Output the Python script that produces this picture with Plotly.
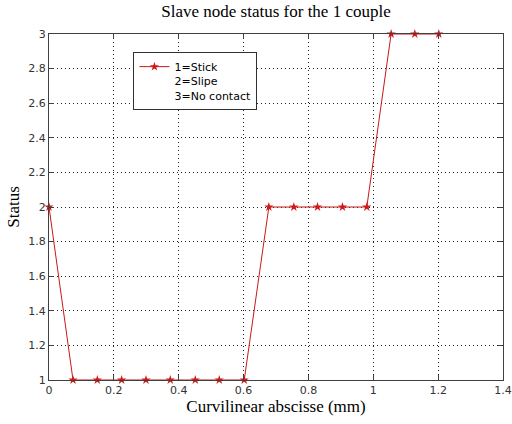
import plotly.graph_objects as go

x_mm = [0, 0.074, 0.149, 0.224, 0.299, 0.374, 0.451, 0.525, 0.602,
        0.678, 0.755, 0.828, 0.905, 0.980, 1.055, 1.128, 1.202]
status = [2, 1, 1, 1, 1, 1, 1, 1, 1, 2, 2, 2, 2, 2, 3, 3, 3]
x_ticks = [0, 0.2, 0.4, 0.6, 0.8, 1, 1.2, 1.4]
y_ticks = [1, 1.2, 1.4, 1.6, 1.8, 2, 2.2, 2.4, 2.6, 2.8, 3]
legend_text = "1=Stick<br>2=Slipe<br>3=No contact"

fig = go.Figure()
fig.add_trace(go.Scatter(
    x=x_mm, y=status, mode="lines+markers", name=legend_text,
    line=dict(color="#c81818", width=1),
    marker=dict(symbol="star", size=7, color="#d01818"),
    cliponaxis=False,
))

axis_common = dict(
    showline=True, linecolor="#404040", linewidth=1, mirror="ticks",
    ticks="inside", ticklen=5, tickcolor="#404040",
    showgrid=True, gridcolor="#202020", griddash="1px,3px", gridwidth=1,
    zeroline=False, automargin=False, ticklabeloverflow="allow",
    tickfont=dict(family="DejaVu Sans, sans-serif", size=11, color="#333333"),
    title_font=dict(family="Liberation Serif, Times New Roman, serif", size=17, color="black"),
)

fig.update_xaxes(range=[0, 1.4], tickvals=x_ticks,
                 ticktext=[f"{v:g}" for v in x_ticks],
                 title_text="Curvilinear abscisse (mm)", title_standoff=3, **axis_common)
fig.update_yaxes(range=[1, 3], tickvals=y_ticks,
                 ticktext=[f"{v:g}" for v in y_ticks],
                 title_text="Status", title_standoff=4, **axis_common)

fig.update_layout(
    width=512, height=424,
    margin=dict(l=49, r=9, t=34, b=44),
    paper_bgcolor="white", plot_bgcolor="white",
    title=dict(text="Slave node status for the 1 couple",
               font=dict(family="Liberation Serif, Times New Roman, serif", size=17, color="black"),
               xref="paper", x=0.5, xanchor="center", y=0.988, yanchor="top"),
    showlegend=True,
    legend=dict(x=0.186, y=0.948, xanchor="left", yanchor="top",
                bgcolor="white", bordercolor="#303030", borderwidth=1,
                valign="top", itemwidth=30, tracegroupgap=0,
                entrywidth=92, entrywidthmode="pixels",
                font=dict(family="DejaVu Sans, sans-serif", size=11, color="black")),
)

fig.write_html("out.html", config={"displayModeBar": False},
               post_script="document.body.style.margin='0px';document.body.style.overflow='hidden';")
